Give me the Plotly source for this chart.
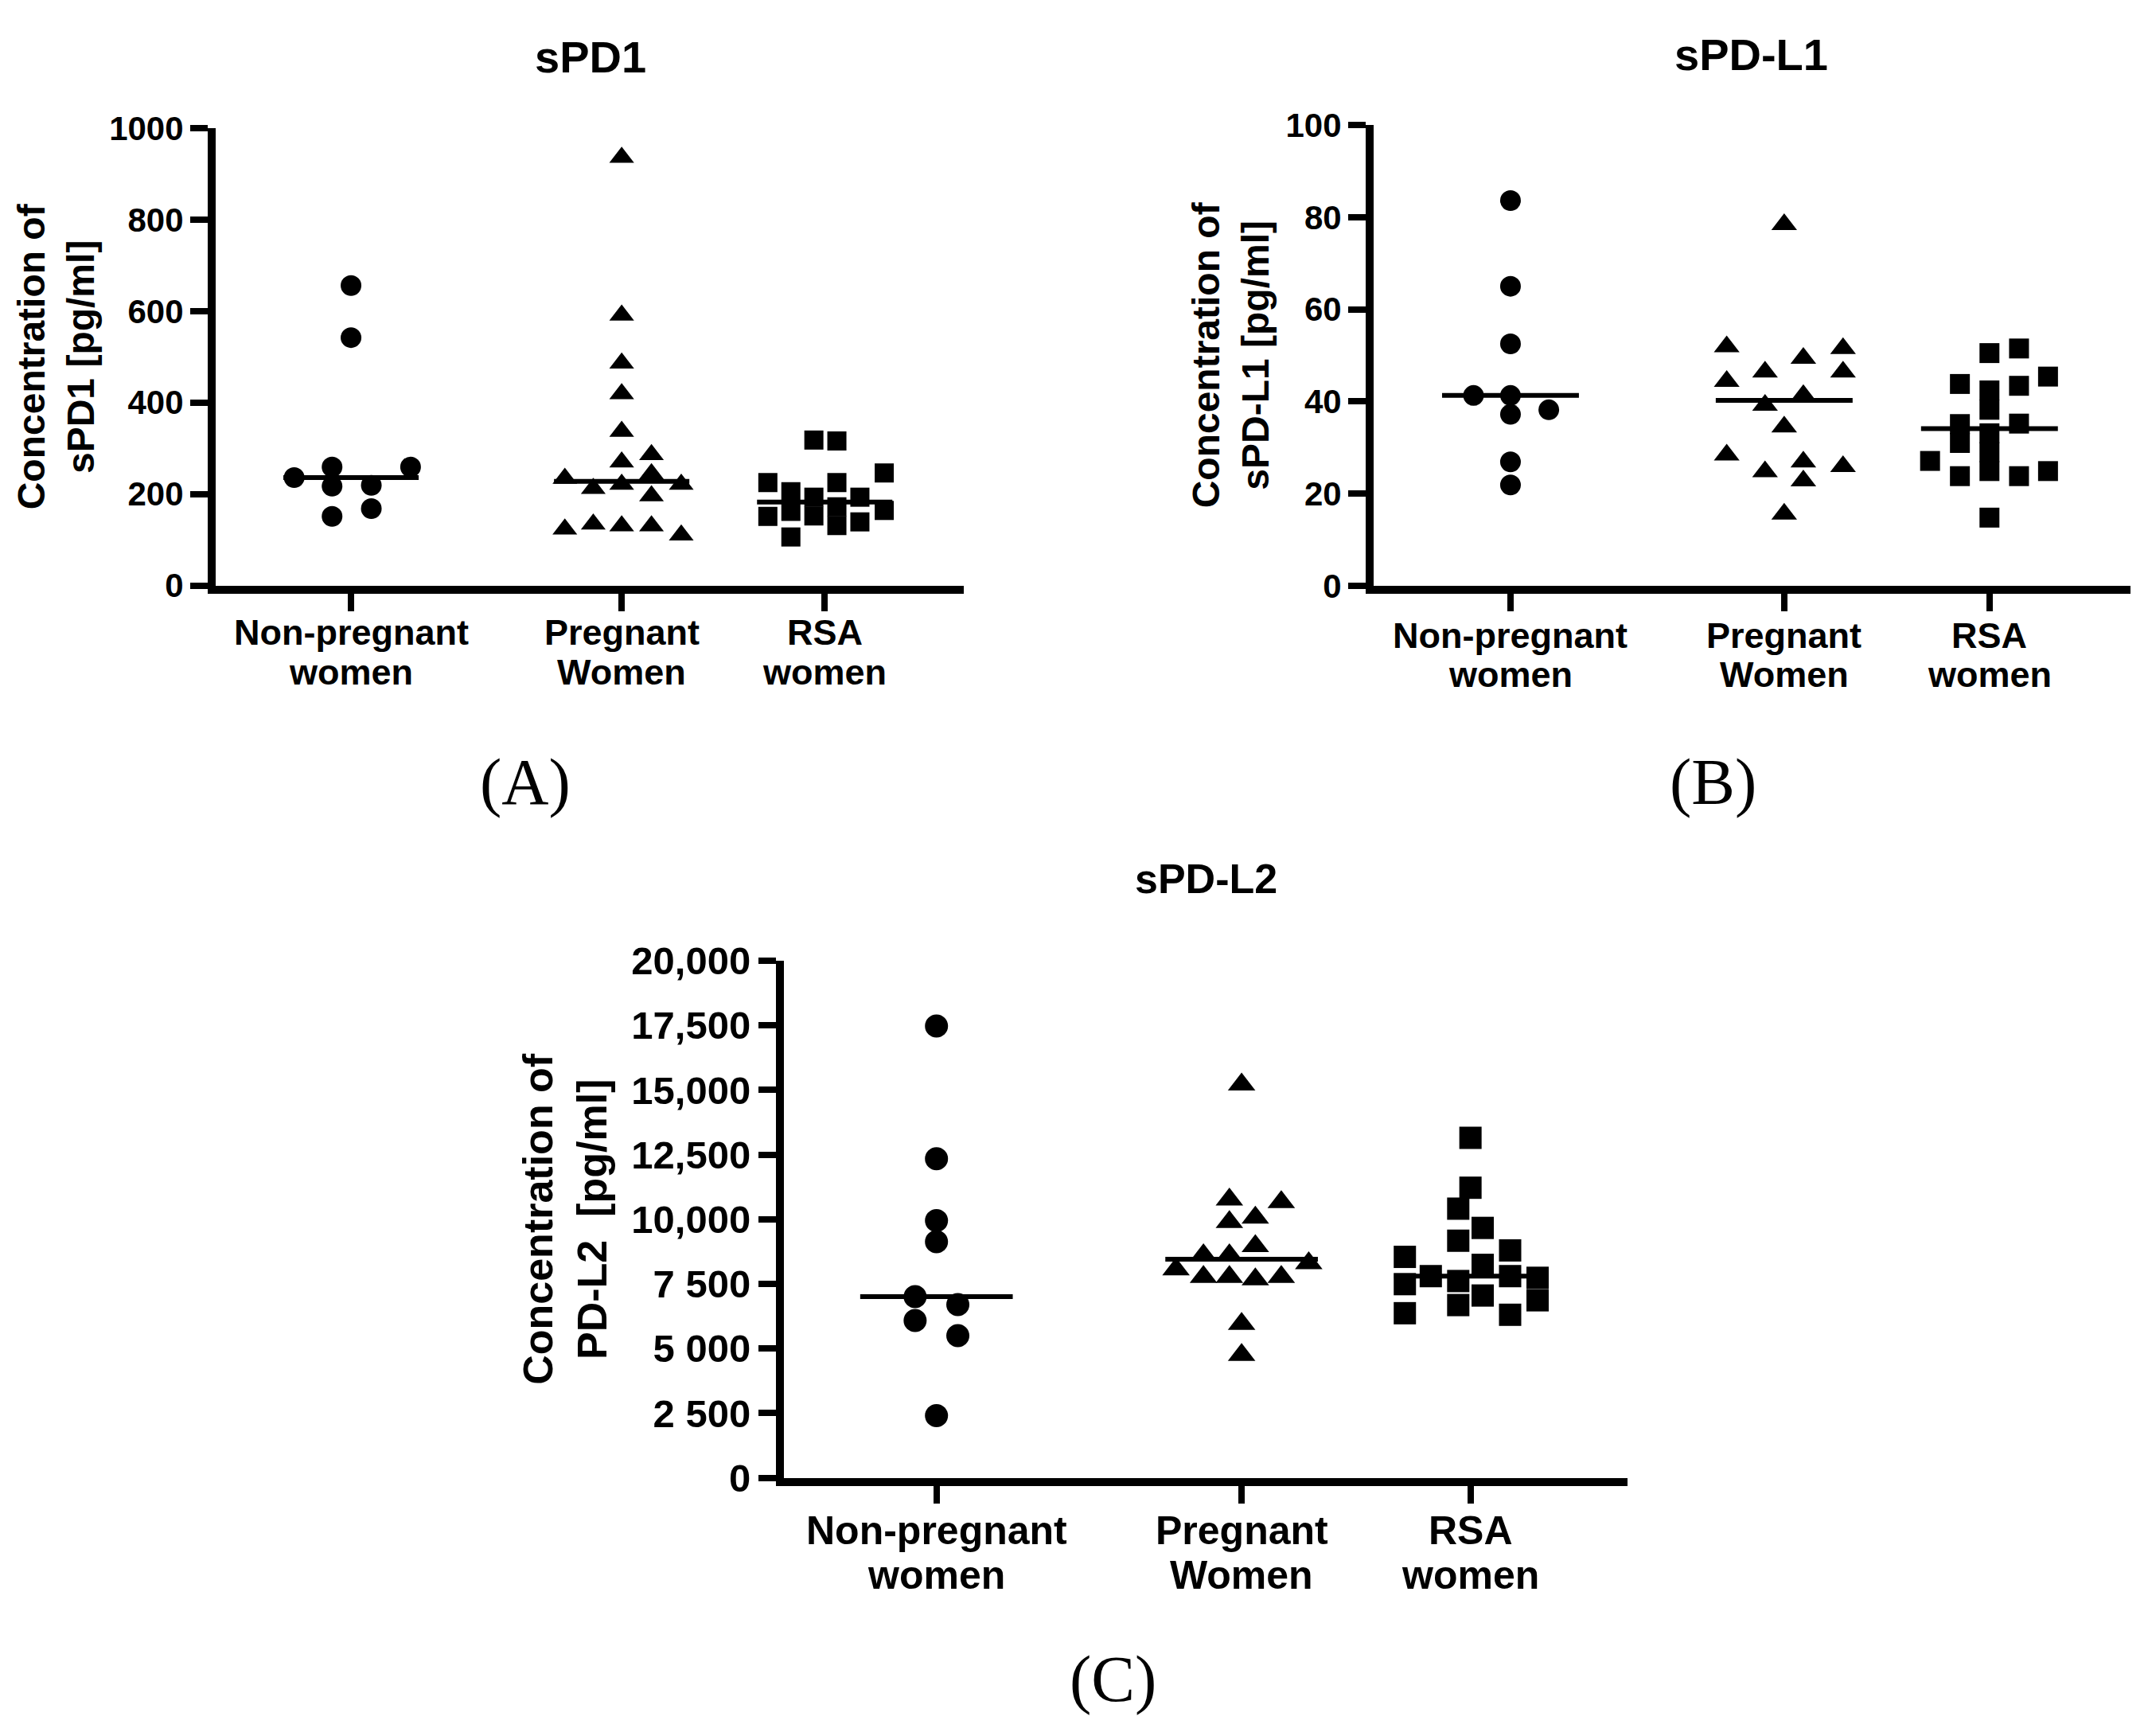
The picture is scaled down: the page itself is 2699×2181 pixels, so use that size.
import numpy as np
import plotly.graph_objects as go

# ---------------- data ----------------
group_line1 = ["Non-pregnant", "Pregnant", "RSA"]
group_line2 = ["women", "Women", "women"]
group_pos = [1, 2, 2.75]

# Panel A: sPD1 (pg/ml)
spd1_np = [656, 542, 236, 259, 259, 217, 219, 151, 168]
spd1_np_jit = [0, 0, -0.21, -0.07, 0.22, -0.07, 0.075, -0.07, 0.075]
spd1_preg = [936, 591, 486, 419, 337, 286, 270, 244, 234, 212, 221, 221, 196, 123, 134, 130, 130, 110]
spd1_preg_jit = [0, 0, 0, 0, 0, 0.11, 0, 0.11, -0.21, -0.105, 0, 0.22, 0.11, -0.21, -0.105, 0, 0.11, 0.22]
spd1_rsa = [318, 316, 246, 225, 225, 205, 162, 193, 152, 193, 172, 131, 151, 164, 139, 106]
spd1_rsa_jit = [-0.04, 0.045, 0.22, -0.21, 0.045, -0.125, -0.125, -0.04, -0.04, 0.13, 0.045, 0.045,
                -0.21, 0.22, 0.13, -0.125]

# Panel B: sPD-L1 (pg/ml)
spdl1_np = [83.6, 65.0, 52.5, 41.3, 41.3, 38.2, 37.2, 26.9, 21.9]
spdl1_np_jit = [0, 0, 0, -0.135, 0, 0.14, 0, 0, 0]
spdl1_preg = [78.4, 51.9, 51.5, 49.4, 46.4, 46.4, 44.4, 41.3, 39.2, 34.5, 28.4, 26.9, 25.9, 24.8, 22.8, 15.6]
spdl1_preg_jit = [0, -0.21, 0.215, 0.07, -0.07, 0.215, -0.21, 0.07, -0.07, 0, -0.21, 0.07, 0.215, -0.07, 0.07, 0]
spdl1_rsa = [51.5, 50.5, 45.4, 43.8, 43.4, 42.4, 38.2, 35.1, 31.0, 35.2, 33.1, 29.0, 24.9, 27.1, 23.8, 23.8,
             24.9, 14.8]
spdl1_rsa_jit = [0.108, 0, 0.214, -0.108, 0.108, 0, 0, -0.108, -0.108, 0.108, 0, 0, 0, -0.217, -0.108, 0.108,
                 0.214, 0]

# Panel C: sPD-L2 (pg/ml)
spdl2_np = [17480, 12340, 9950, 9130, 7010, 6700, 6080, 5500, 2400]
spdl2_np_jit = [0, 0, 0, 0, -0.07, 0.07, -0.07, 0.07, 0]
spdl2_preg = [15210, 10760, 10660, 10065, 9890, 8960, 8610, 8610, 8300, 8060, 7770, 7770, 7675, 7770, 5955, 4750]
spdl2_preg_jit = [0, -0.04, 0.13, 0.045, -0.04, 0.045, -0.125, -0.04, 0.22, -0.215, -0.125, -0.04, 0.045, 0.13,
                  0, 0]
spdl2_rsa = [13150, 11220, 10410, 9665, 9170, 8795, 8545, 8235, 7800, 7800, 7490, 7610, 7735, 6865, 7050, 6680,
             6365, 6305]
spdl2_rsa_jit = [0, 0, -0.04, 0.04, -0.04, 0.13, -0.215, 0.04, -0.13, 0.13, -0.215, -0.04, 0.22, 0.22, 0.04,
                 -0.04, -0.215, 0.13]

spd1_ticks = [0, 200, 400, 600, 800, 1000]
spd1_ticktext = ["0", "200", "400", "600", "800", "1000"]
spdl1_ticks = [0, 20, 40, 60, 80, 100]
spdl1_ticktext = ["0", "20", "40", "60", "80", "100"]
spdl2_ticks = [0, 2500, 5000, 7500, 10000, 12500, 15000, 17500, 20000]
spdl2_ticktext = ["0", "2 500", "5 000", "7 500", "10,000", "12,500", "15,000", "17,500", "20,000"]

panel_titles = ["sPD1", "sPD-L1", "sPD-L2"]
y_titles = ["Concentration of<br>sPD1 [pg/ml]", "Concentration of<br>sPD-L1 [pg/ml]",
            "Concentration of<br>PD-L2\u00a0\u00a0[pg/ml]"]
panel_letters = ["(A)", "(B)", "(C)"]

# ---------------- layout constants ----------------
W, H = 2699, 2181
SANS = "Liberation Sans, Arial, Helvetica, sans-serif"
SERIF = "Liberation Serif, Times New Roman, serif"
XR = [0.5, 3.265]


def xdom(left_px, right_px):
    return [left_px / W, right_px / W]


def ydom(bottom_px, top_px):
    return [1 - bottom_px / H, 1 - top_px / H]


panels = [
    dict(groups=[(spd1_np, spd1_np_jit, "circle"), (spd1_preg, spd1_preg_jit, "triangle-up"),
                 (spd1_rsa, spd1_rsa_jit, "square")],
         yr=[0, 1000], ticks=spd1_ticks, ticktext=spd1_ticktext,
         xd=xdom(271, 1211.4), yd=ydom(726.5, 137.5),
         msize={"circle": 26, "triangle-up": 27, "square": 24},
         tickfs=42, catfs=45, titlefs=56, ytfs=48,
         cat_y=(787, 838),
         title_xy=(742, 46), yt_xy=(70, 432), letter_xy=(660, 980)),
    dict(groups=[(spdl1_np, spdl1_np_jit, "circle"), (spdl1_preg, spdl1_preg_jit, "triangle-up"),
                 (spdl1_rsa, spdl1_rsa_jit, "square")],
         yr=[0, 100], ticks=spdl1_ticks, ticktext=spdl1_ticktext,
         xd=xdom(1726, 2676.9), yd=ydom(727, 133.3),
         msize={"circle": 26, "triangle-up": 28, "square": 25},
         tickfs=42, catfs=45, titlefs=56, ytfs=48,
         cat_y=(791, 841),
         title_xy=(2200, 43), yt_xy=(1546, 430), letter_xy=(2152, 980)),
    dict(groups=[(spdl2_np, spdl2_np_jit, "circle"), (spdl2_preg, spdl2_preg_jit, "triangle-up"),
                 (spdl2_rsa, spdl2_rsa_jit, "square")],
         yr=[0, 20000], ticks=spdl2_ticks, ticktext=spdl2_ticktext,
         xd=xdom(985, 2045.1), yd=ydom(1876, 1210),
         msize={"circle": 29, "triangle-up": 30, "square": 28},
         tickfs=49, catfs=50, titlefs=52, ytfs=52,
         cat_y=(1944, 2002),
         title_xy=(1515, 1104), yt_xy=(710, 1543), letter_xy=(1398, 2135)),
]

fig = go.Figure()
annotations = []
layout_axes = {}

for i, p in enumerate(panels):
    n = "" if i == 0 else str(i + 1)
    xa, ya = "x" + n, "y" + n
    for gi, (vals, jit, sym) in enumerate(p["groups"]):
        xs = [group_pos[gi] + j for j in jit]
        fig.add_trace(go.Scatter(
            x=xs, y=vals, mode="markers", xaxis=xa, yaxis=ya,
            marker=dict(symbol=sym, size=p["msize"][sym], color="black", line=dict(width=0)),
            showlegend=False, hoverinfo="skip", cliponaxis=False))
        med = float(np.median(vals))
        fig.add_trace(go.Scatter(
            x=[group_pos[gi] - 0.25, group_pos[gi] + 0.25], y=[med, med], mode="lines",
            xaxis=xa, yaxis=ya, line=dict(color="black", width=6),
            showlegend=False, hoverinfo="skip"))

    layout_axes["xaxis" + n] = dict(
        domain=p["xd"], anchor=ya, range=XR, showgrid=False, zeroline=False,
        showline=True, linecolor="black", linewidth=10,
        ticks="outside", ticklen=22, tickwidth=8, tickcolor="black",
        tickvals=group_pos, showticklabels=False)
    layout_axes["yaxis" + n] = dict(
        domain=p["yd"], anchor=xa, range=p["yr"], showgrid=False, zeroline=False,
        showline=True, linecolor="black", linewidth=10,
        ticks="outside", ticklen=22, tickwidth=8, tickcolor="black",
        tickvals=p["ticks"], ticktext=p["ticktext"],
        tickfont=dict(family=SANS, size=p["tickfs"], color="black", weight="bold"))

    # two-line category labels, positioned on the x axis scale
    for gi, gx in enumerate(group_pos):
        for line_text, line_y in ((group_line1[gi], p["cat_y"][0]), (group_line2[gi], p["cat_y"][1])):
            annotations.append(dict(text=line_text, x=gx, xref=xa, y=1 - line_y / H, yref="paper",
                                    xanchor="center", yanchor="middle", showarrow=False,
                                    font=dict(family=SANS, size=p["catfs"], color="black", weight="bold")))

    tx, ty = p["title_xy"]
    annotations.append(dict(text=panel_titles[i], x=tx / W, y=1 - ty / H, xref="paper", yref="paper",
                            xanchor="center", yanchor="middle", showarrow=False,
                            font=dict(family=SANS, size=p["titlefs"], color="black", weight="bold")))
    yx, yy = p["yt_xy"]
    annotations.append(dict(text=y_titles[i], x=yx / W, y=1 - yy / H, xref="paper", yref="paper",
                            xanchor="center", yanchor="middle", showarrow=False, textangle=-90,
                            font=dict(family=SANS, size=p["ytfs"], color="black", weight="bold")))
    lx, ly = p["letter_xy"]
    annotations.append(dict(text=panel_letters[i], x=lx / W, y=1 - ly / H, xref="paper", yref="paper",
                            xanchor="center", yanchor="middle", showarrow=False,
                            font=dict(family=SERIF, size=82, color="black")))

fig.update_layout(
    width=W, height=H, margin=dict(l=0, r=0, t=0, b=0),
    paper_bgcolor="white", plot_bgcolor="white", showlegend=False,
    annotations=annotations, **layout_axes)

fig.write_html("out.html", config={"displayModeBar": False},
               post_script="document.body.style.margin='0';document.body.style.overflow='hidden';")
